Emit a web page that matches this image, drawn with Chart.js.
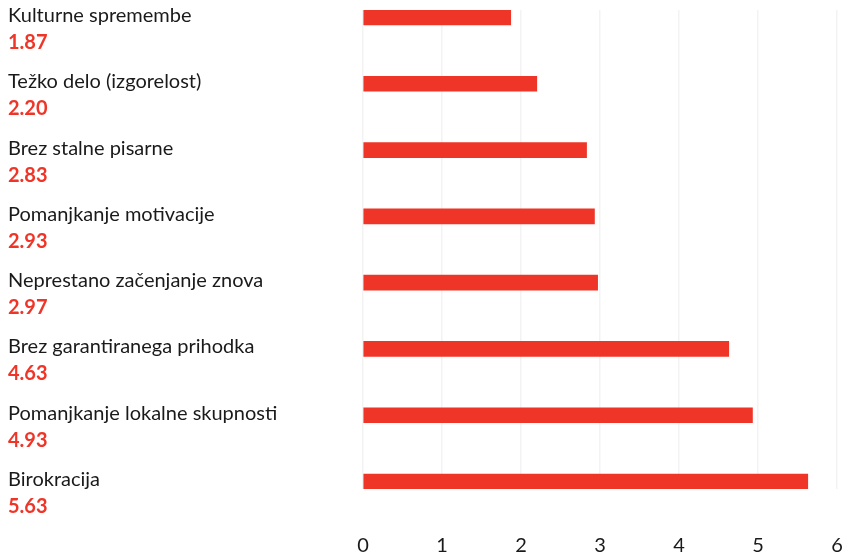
<!DOCTYPE html>
<html>
<head>
<meta charset="utf-8">
<script src="https://cdn.jsdelivr.net/npm/chart.js@4.4.1/dist/chart.umd.min.js"></script>
<style>
  html, body { margin: 0; padding: 0; background: #fff; overflow: hidden; }
  canvas { display: block; }
</style>
</head>
<body>
<canvas id="myChart" width="843" height="558"></canvas>
<script>
// categories and values, top to bottom
const categories = [
  'Kulturne spremembe',
  'Težko delo (izgorelost)',
  'Brez stalne pisarne',
  'Pomanjkanje motivacije',
  'Neprestano začenjanje znova',
  'Brez garantiranega prihodka',
  'Pomanjkanje lokalne skupnosti',
  'Birokracija'
];
const values = [1.87, 2.20, 2.83, 2.93, 2.97, 4.63, 4.93, 5.63];
const xTicks = [0, 1, 2, 3, 4, 5, 6];

const RED = '#ef3527';
const FONT = 'Lato, "Noto Sans", sans-serif';

// draws the two-line labels on the left (name + value)
const sideLabels = {
  id: 'sideLabels',
  afterDraw(chart) {
    var ctx = chart.ctx;
    var yScale = chart.scales.y;
    ctx.save();
    ctx.textAlign = 'left';
    ctx.textBaseline = 'alphabetic';
    categories.forEach(function (name, i) {
      var y = yScale.getPixelForValue(i);
      ctx.fillStyle = '#1a1a1a';
      ctx.font = '20px ' + FONT;
      ctx.fillText(name, 8, y + 4.5);
      ctx.fillStyle = RED;
      ctx.font = 'bold 20px ' + FONT;
      ctx.fillText(values[i].toFixed(2), 8, y + 31.5);
    });
    ctx.restore();
  }
};

var ctx = document.getElementById('myChart').getContext('2d');
var chart = new Chart(ctx, {
  type: 'bar',
  data: {
    datasets: [{
      data: values.map(function (v, i) { return { x: v, y: i }; }),
      backgroundColor: RED,
      barThickness: 15,
      borderWidth: 0
    }]
  },
  options: {
    indexAxis: 'y',
    responsive: false,
    animation: false,
    layout: { padding: { left: 363, right: 6, top: 10, bottom: 0 } },
    plugins: { legend: { display: false }, tooltip: { enabled: false } },
    scales: {
      x: {
        min: 0,
        max: 6,
        afterBuildTicks: function (axis) { axis.ticks = xTicks.map(function (v) { return { value: v }; }); },
        // invisible tick marks make the gap between the plot and the numbers
        grid: { color: '#f3f3f3', lineWidth: 1.5, drawTicks: true, tickLength: 45, tickColor: 'rgba(0,0,0,0)' },
        border: { display: false },
        ticks: { padding: 0, color: '#1a1a1a', font: { family: FONT, size: 20 } }
      },
      y: {
        type: 'linear',
        offset: false,
        min: -0.113,
        max: 7.113,
        reverse: true,
        display: false
      }
    }
  },
  plugins: [sideLabels]
});
</script>
</body>
</html>
